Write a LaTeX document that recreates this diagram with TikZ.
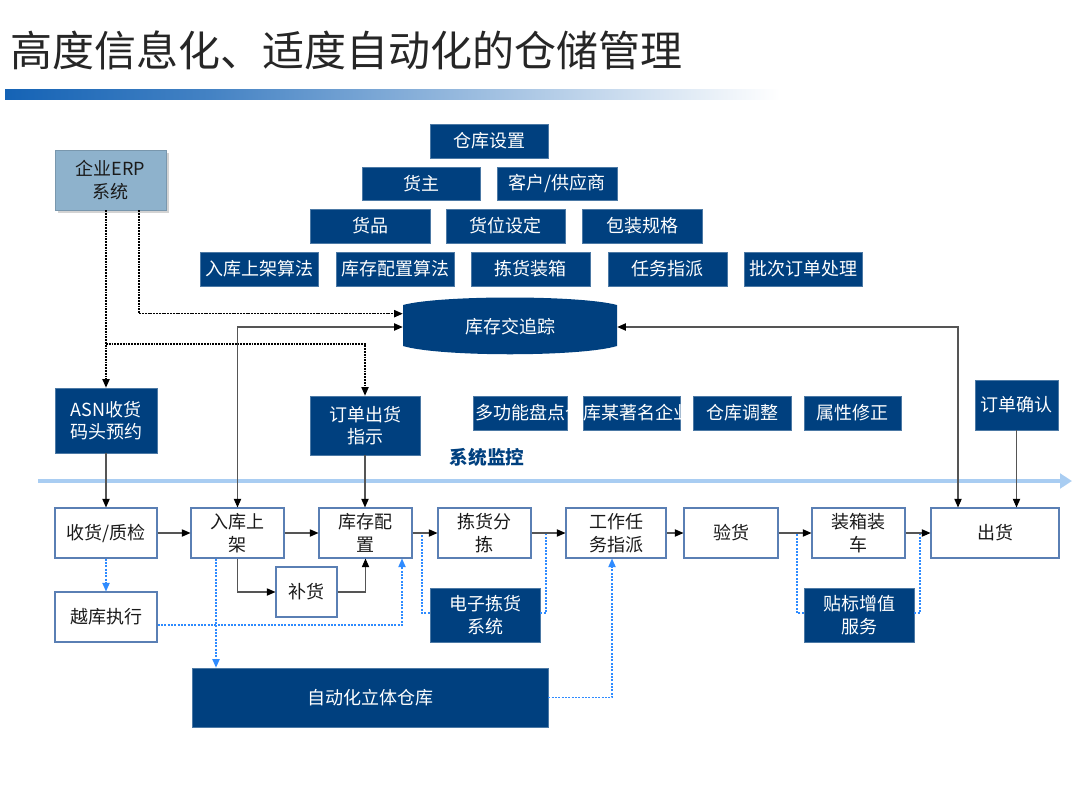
\documentclass[tikz,border=0pt]{standalone}
\usepackage{fontspec}
\setmainfont{Noto Sans CJK SC}
\usetikzlibrary{arrows.meta,shadows}
\definecolor{deepblue}{HTML}{00407F}
\definecolor{frame}{HTML}{5A7FB4}
\definecolor{skyline}{HTML}{A9CDF2}
\definecolor{dotblue}{HTML}{2E8BFF}
\definecolor{erpblue}{HTML}{8EB2CC}
\definecolor{linegray}{HTML}{555555}
\definecolor{ink}{HTML}{1A1A1A}
\definecolor{titlegray}{HTML}{262626}
\definecolor{barblue}{HTML}{1563B5}

\begin{document}
\begin{tikzpicture}[x=0.75pt,y=-0.75pt,font=\fontsize{13.5}{17}\selectfont,
  sz/.style 2 args={minimum width=#1*0.75pt,minimum height=#2*0.75pt},
  dk/.style={fill=deepblue,draw=deepblue!70!white,line width=0.5pt,text=white,inner sep=0pt,align=center},
  wt/.style={fill=white,draw=frame,line width=0.8pt,text=ink,inner sep=0pt,align=center},
  flow/.style={linegray,line width=0.8pt,-{Triangle[length=6.5pt,width=5.5pt,color=black]}},
  flowboth/.style={linegray,line width=0.8pt,{Triangle[length=6.5pt,width=5.5pt,color=black]}-{Triangle[length=6.5pt,width=5.5pt,color=black]}},
  erpline/.style={black,line width=0.9pt,dash pattern=on 1.4pt off 0.7pt,-{Triangle[length=6.5pt,width=5.5pt,color=black]}},
  aux/.style={dotblue,line width=0.9pt,dash pattern=on 1.5pt off 1pt},
  auxarr/.style={aux,-{Triangle[length=6.5pt,width=5.5pt]}}]
        \useasboundingbox (0,0) rectangle (1080,810);
        \node[anchor=west,text=titlegray,font=\fontsize{31.5}{36}\selectfont] (title) at (6,50) {高度信息化、适度自动化的仓储管理};
        \shade[left color=barblue,right color=barblue!80!white] (5,89) rectangle (210,99);
        \shade[left color=barblue!80!white,right color=white] (210,89) rectangle (780,99);

        \node[dk,sz={118}{34}] (cksz) at (489,141) {仓库设置};
        \node[dk,sz={118}{33}] (hz) at (421,183.5) {货主};
        \node[dk,sz={120}{33}] (khgy) at (557,183.5) {客户/供应商};
        \node[dk,sz={120}{34}] (hp) at (370,226) {货品};
        \node[dk,sz={119}{34}] (hwsd) at (505.5,226) {货位设定};
        \node[dk,sz={120}{34}] (bzgg) at (642,226) {包装规格};
        \node[dk,sz={118}{34}] (rksf) at (259,269) {入库上架算法};
        \node[dk,sz={118}{34}] (pzsf) at (395,269) {库存配置算法};
        \node[dk,sz={119}{34}] (jhzx) at (530.5,269) {拣货装箱};
        \node[dk,sz={119}{34}] (rwzp) at (667.5,269) {任务指派};
        \node[dk,sz={118}{34}] (pcdd) at (803,269) {批次订单处理};

        \fill[deepblue] (403,305) .. controls (440,295) and (580,295) .. (617,305) -- (617,346)
          .. controls (580,357) and (440,357) .. (403,346) -- cycle;
        \node[text=white,inner sep=0pt,sz={214}{56}] (kcz) at (510,327) {库存交追踪};

        \node[fill=erpblue,draw=erpblue!85!black,line width=0.5pt,text=ink,align=center,inner sep=0pt,sz={111}{60},
          drop shadow={shadow xshift=2pt,shadow yshift=-2pt,opacity=0.35}] (erp) at (110.5,180) {企业ERP\\系统};

        \draw[skyline,line width=3.5pt,-{Triangle[length=9pt,width=11pt]}] (38,481) coordinate (bs) -- (1072,481) coordinate (be);
        \node[text=deepblue,font=\fontsize{14}{17}\bfseries] (xtjk) at (487,457) {系统监控};

        \node[dk,sz={102}{65}] (asn) at (106,420.5) {ASN收货\\码头预约};
        \node[dk,sz={110}{59}] (ddch) at (365,425.5) {订单出货\\指示};
        \node[dk,sz={94}{34}] (dgn) at (520,413) {多功能盘点};
        \node[dk,sz={97}{34}] (mqy) at (631.5,413) {\makebox[72.75pt]{\kern-3.8pt 仓库某著名企业}};
        \node[dk,sz={98}{34}] (cktz) at (742,413) {仓库调整};
        \node[dk,sz={97}{34}] (sxxz) at (852.5,413) {属性修正};
        \node[dk,sz={83}{50}] (ddqr) at (1016.5,405) {订单确认};

        \node[wt,sz={102}{50}] (shzj) at (106,533) {收货/质检};
        \node[wt,sz={93}{50}] (rksj) at (237.5,533) {入库上\\架};
        \node[wt,sz={93}{50}] (kcpz) at (365.5,533) {库存配\\置};
        \node[wt,sz={93}{50}] (jhfj) at (484.5,533) {拣货分\\拣};
        \node[wt,sz={100}{50}] (gzrw) at (616,533) {工作任\\务指派};
        \node[wt,sz={94}{50}] (yh) at (731,533) {验货};
        \node[wt,sz={93}{50}] (zxzc) at (858.5,533) {装箱装\\车};
        \node[wt,sz={128}{50}] (ch) at (995,533) {出货};

        \node[wt,sz={102}{50}] (ykzx) at (106,617) {越库执行};
        \node[wt,sz={61}{50}] (bh) at (306.5,592) {补货};
        \node[dk,sz={110}{54}] (dzjh) at (485,615) {电子拣货\\系统};
        \node[dk,sz={110}{54}] (tbzz) at (859,615) {贴标增值\\服务};
        \node[dk,sz={356}{59}] (ztk) at (370,697.5) {自动化立体仓库};

        \coordinate (ex1) at (139,0);
        \coordinate (ey) at (0,344);
        \draw[erpline] (erp.south -| ex1) |- ([yshift=10pt]kcz.west);
        \draw[erpline] (erp.south -| asn.north) -- (asn.north);
        \draw[erpline] (asn.north |- ey) -| (ddch.north);

        \coordinate (ox) at (958,0);
        \draw[flowboth] (rksj.north) |- (kcz.west);
        \draw[flowboth] (kcz.east) -| (ch.north -| ox);
        \draw[flow] (asn.south) -- (shzj.north);
        \draw[flow] (ddch.south) -- (ddch.south |- kcpz.north);
        \draw[flow] (ddqr.south) -- (ddqr.south |- ch.north);

        \coordinate (bx1) at (402,0);
        \coordinate (bx2) at (216,0);
        \coordinate (bx3) at (422,0);
        \coordinate (bx4) at (546,0);
        \coordinate (bx5) at (797,0);
        \coordinate (bx6) at (920,0);
        \draw[auxarr] (shzj.south) -- (ykzx.north);
        \draw[auxarr] ([yshift=-6pt]ykzx.east) -| (kcpz.south -| bx1);
        \draw[auxarr] (rksj.south -| bx2) -- (ztk.north -| bx2);
        \draw[auxarr] (ztk.east) -| ([xshift=-3pt]gzrw.south);
        \draw[aux] ([yshift=1.5pt]dzjh.west) -| (kcpz.east -| bx3);
        \draw[aux] ([yshift=1.5pt]dzjh.east) -| (jhfj.east -| bx4);
        \draw[aux] ([yshift=1.5pt]tbzz.west) -| (yh.east -| bx5);
        \draw[aux] ([yshift=1.5pt]tbzz.east) -| (zxzc.east -| bx6);

        \draw[flow] (shzj.east) -- (rksj.west);
        \draw[flow] (rksj.east) -- (kcpz.west);
        \draw[flow] (kcpz.east) -- (jhfj.west);
        \draw[flow] (jhfj.east) -- (gzrw.west);
        \draw[flow] (gzrw.east) -- (yh.west);
        \draw[flow] (yh.east) -- (zxzc.west);
        \draw[flow] (zxzc.east) -- (ch.west);
        \draw[flow] (rksj.south) |- (bh.west);
        \draw[flow] (bh.east) -| (kcpz.south);
      \end{tikzpicture}
\end{document}
